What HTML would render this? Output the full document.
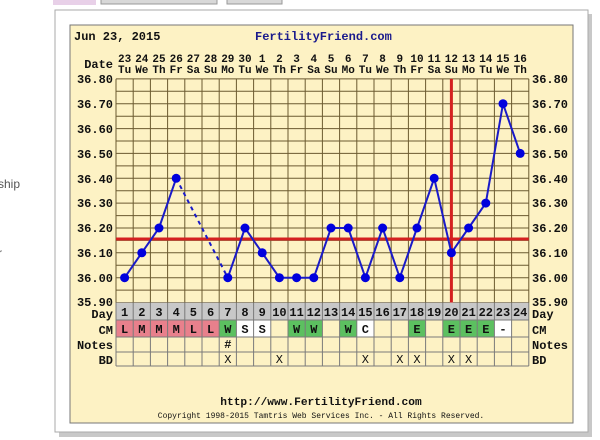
<!DOCTYPE html>
<html><head><meta charset="utf-8"><style>
html,body{margin:0;padding:0;background:#fff;width:600px;height:440px;overflow:hidden;font-family:"Liberation Sans",sans-serif}
svg{position:absolute;left:0;top:0}
</style></head><body>
<svg width="600" height="440" viewBox="0 0 600 440" xmlns="http://www.w3.org/2000/svg">
<text x="-2" y="188" font-size="12" fill="#555" font-family="Liberation Sans, sans-serif">ship</text>
<text x="-2" y="257" font-size="12" fill="#555" font-family="Liberation Sans, sans-serif">r</text>
<rect x="53" y="0" width="43" height="5" fill="#e8d0e8"/>
<rect x="101" y="-2" width="116" height="6" fill="#d8d8d8" stroke="#999"/>
<rect x="227" y="-2" width="55" height="6" fill="#d8d8d8" stroke="#999"/>
<rect x="59" y="14" width="533" height="423" fill="#c8c8c8"/>
<rect x="55" y="10" width="533" height="422" fill="#fff" stroke="#aaa"/>
<rect x="70" y="25" width="503" height="398" fill="#fdf2c4" stroke="#777"/>
<g font-family="Liberation Mono, monospace" font-weight="bold">
<text x="74" y="40" font-size="12" fill="#111">Jun 23, 2015</text>
<text x="255" y="40" font-size="12" fill="#1a1a8c">FertilityFriend.com</text>
</g>
<g stroke="#6b5a30" stroke-width="1" fill="none">
<path d="M116 78.9H528.8M116 91.3H528.8M116 103.7H528.8M116 116.2H528.8M116 128.6H528.8M116 141H528.8M116 153.4H528.8M116 165.9H528.8M116 178.3H528.8M116 190.7H528.8M116 203.1H528.8M116 215.6H528.8M116 228H528.8M116 240.4H528.8M116 252.8H528.8M116 265.3H528.8M116 277.7H528.8M116 290.1H528.8M116 302.5H528.8"/>
<path d="M116 78.9V302.5M133.2 78.9V302.5M150.4 78.9V302.5M167.6 78.9V302.5M184.8 78.9V302.5M202 78.9V302.5M219.2 78.9V302.5M236.4 78.9V302.5M253.6 78.9V302.5M270.8 78.9V302.5M288 78.9V302.5M305.2 78.9V302.5M322.4 78.9V302.5M339.6 78.9V302.5M356.8 78.9V302.5M374 78.9V302.5M391.2 78.9V302.5M408.4 78.9V302.5M425.6 78.9V302.5M442.8 78.9V302.5M460 78.9V302.5M477.2 78.9V302.5M494.4 78.9V302.5M511.6 78.9V302.5M528.8 78.9V302.5"/>
</g>
<rect x="116" y="302.5" width="412.8" height="17.5" fill="#c8c8c8"/>
<rect x="116" y="320" width="412.8" height="46" fill="#fdf2c4"/>
<rect x="116" y="320" width="103.2" height="17" fill="#e8808c"/>
<g fill="#5cc060">
<rect x="219.2" y="320" width="17.2" height="17"/>
<rect x="288" y="320" width="34.4" height="17"/>
<rect x="339.6" y="320" width="17.2" height="17"/>
<rect x="408.4" y="320" width="17.2" height="17"/>
<rect x="442.8" y="320" width="51.6" height="17"/>
</g>
<rect x="236.4" y="320" width="34.4" height="17" fill="#fff"/>
<rect x="356.8" y="320" width="17.2" height="17" fill="#fff"/>
<rect x="494.4" y="320" width="17.2" height="17" fill="#fff"/>
<g stroke="#7a7a7a" stroke-width="1" fill="none">
<path d="M116 320H528.8M116 337H528.8M116 352H528.8M116 366H528.8"/>
<path d="M116 302.5V366M133.2 302.5V366M150.4 302.5V366M167.6 302.5V366M184.8 302.5V366M202 302.5V366M219.2 302.5V366M236.4 302.5V366M253.6 302.5V366M270.8 302.5V366M288 302.5V366M305.2 302.5V366M322.4 302.5V366M339.6 302.5V366M356.8 302.5V366M374 302.5V366M391.2 302.5V366M408.4 302.5V366M425.6 302.5V366M442.8 302.5V366M460 302.5V366M477.2 302.5V366M494.4 302.5V366M511.6 302.5V366M528.8 302.5V366"/>
</g>
<line x1="116" y1="239" x2="528.8" y2="239" stroke="#d42020" stroke-width="3"/>
<line x1="451.4" y1="78.9" x2="451.4" y2="302.5" stroke="#d42020" stroke-width="3"/>
<g stroke="#1a1ac8" stroke-width="2" fill="none">
<polyline points="124.6,277.7 141.8,252.8 159,228 176.2,178.3"/>
<line x1="176.2" y1="178.3" x2="227.8" y2="277.7" stroke-dasharray="4,4"/>
<polyline points="227.8,277.7 245,228 262.2,252.8 279.4,277.7 296.6,277.7 313.8,277.7 331,228 348.2,228 365.4,277.7 382.6,228 399.8,277.7 417,228 434.2,178.3 451.4,252.8 468.6,228 485.8,203.1 503,103.7 520.2,153.4"/>
</g>
<g fill="#0000dd">
<circle cx="124.6" cy="277.7" r="4.5"/><circle cx="141.8" cy="252.8" r="4.5"/><circle cx="159" cy="228" r="4.5"/><circle cx="176.2" cy="178.3" r="4.5"/>
<circle cx="227.8" cy="277.7" r="4.5"/><circle cx="245" cy="228" r="4.5"/><circle cx="262.2" cy="252.8" r="4.5"/><circle cx="279.4" cy="277.7" r="4.5"/><circle cx="296.6" cy="277.7" r="4.5"/><circle cx="313.8" cy="277.7" r="4.5"/><circle cx="331" cy="228" r="4.5"/><circle cx="348.2" cy="228" r="4.5"/><circle cx="365.4" cy="277.7" r="4.5"/><circle cx="382.6" cy="228" r="4.5"/><circle cx="399.8" cy="277.7" r="4.5"/><circle cx="417" cy="228" r="4.5"/><circle cx="434.2" cy="178.3" r="4.5"/><circle cx="451.4" cy="252.8" r="4.5"/><circle cx="468.6" cy="228" r="4.5"/><circle cx="485.8" cy="203.1" r="4.5"/><circle cx="503" cy="103.7" r="4.5"/><circle cx="520.2" cy="153.4" r="4.5"/>
</g>
<g font-family="Liberation Mono, monospace" font-weight="bold" font-size="12" fill="#111">
<text x="113" y="68" text-anchor="end">Date</text>
<g text-anchor="middle">
<text y="62" font-size="11"><tspan x="124.6">23</tspan><tspan x="141.8">24</tspan><tspan x="159">25</tspan><tspan x="176.2">26</tspan><tspan x="193.4">27</tspan><tspan x="210.6">28</tspan><tspan x="227.8">29</tspan><tspan x="245">30</tspan><tspan x="262.2">1</tspan><tspan x="279.4">2</tspan><tspan x="296.6">3</tspan><tspan x="313.8">4</tspan><tspan x="331">5</tspan><tspan x="348.2">6</tspan><tspan x="365.4">7</tspan><tspan x="382.6">8</tspan><tspan x="399.8">9</tspan><tspan x="417">10</tspan><tspan x="434.2">11</tspan><tspan x="451.4">12</tspan><tspan x="468.6">13</tspan><tspan x="485.8">14</tspan><tspan x="503">15</tspan><tspan x="520.2">16</tspan></text>
<text y="73" font-size="11"><tspan x="124.6">Tu</tspan><tspan x="141.8">We</tspan><tspan x="159">Th</tspan><tspan x="176.2">Fr</tspan><tspan x="193.4">Sa</tspan><tspan x="210.6">Su</tspan><tspan x="227.8">Mo</tspan><tspan x="245">Tu</tspan><tspan x="262.2">We</tspan><tspan x="279.4">Th</tspan><tspan x="296.6">Fr</tspan><tspan x="313.8">Sa</tspan><tspan x="331">Su</tspan><tspan x="348.2">Mo</tspan><tspan x="365.4">Tu</tspan><tspan x="382.6">We</tspan><tspan x="399.8">Th</tspan><tspan x="417">Fr</tspan><tspan x="434.2">Sa</tspan><tspan x="451.4">Su</tspan><tspan x="468.6">Mo</tspan><tspan x="485.8">Tu</tspan><tspan x="503">We</tspan><tspan x="520.2">Th</tspan></text>
<text y="316"><tspan x="124.6">1</tspan><tspan x="141.8">2</tspan><tspan x="159">3</tspan><tspan x="176.2">4</tspan><tspan x="193.4">5</tspan><tspan x="210.6">6</tspan><tspan x="227.8">7</tspan><tspan x="245">8</tspan><tspan x="262.2">9</tspan><tspan x="279.4">10</tspan><tspan x="296.6">11</tspan><tspan x="313.8">12</tspan><tspan x="331">13</tspan><tspan x="348.2">14</tspan><tspan x="365.4">15</tspan><tspan x="382.6">16</tspan><tspan x="399.8">17</tspan><tspan x="417">18</tspan><tspan x="434.2">19</tspan><tspan x="451.4">20</tspan><tspan x="468.6">21</tspan><tspan x="485.8">22</tspan><tspan x="503">23</tspan><tspan x="520.2">24</tspan></text>
<text y="333"><tspan x="124.6">L</tspan><tspan x="141.8">M</tspan><tspan x="159">M</tspan><tspan x="176.2">M</tspan><tspan x="193.4">L</tspan><tspan x="210.6">L</tspan><tspan x="227.8">W</tspan><tspan x="245">S</tspan><tspan x="262.2">S</tspan><tspan x="296.6">W</tspan><tspan x="313.8">W</tspan><tspan x="348.2">W</tspan><tspan x="365.4">C</tspan><tspan x="417">E</tspan><tspan x="451.4">E</tspan><tspan x="468.6">E</tspan><tspan x="485.8">E</tspan><tspan x="503">-</tspan></text>
<text y="348" x="227.8">#</text>
<text y="363" font-weight="normal"><tspan x="227.8">X</tspan><tspan x="279.4">X</tspan><tspan x="365.4">X</tspan><tspan x="399.8">X</tspan><tspan x="417">X</tspan><tspan x="451.4">X</tspan><tspan x="468.6">X</tspan></text>
</g>
<g text-anchor="end">
<text x="113" y="83">36.80</text><text x="113" y="108">36.70</text><text x="113" y="133">36.60</text><text x="113" y="158">36.50</text><text x="113" y="183">36.40</text><text x="113" y="207">36.30</text><text x="113" y="232">36.20</text><text x="113" y="257">36.10</text><text x="113" y="282">36.00</text><text x="113" y="306">35.90</text>
<text x="113" y="318">Day</text><text x="113" y="334">CM</text><text x="113" y="349">Notes</text><text x="113" y="364">BD</text>
</g>
<g>
<text x="532" y="83">36.80</text><text x="532" y="108">36.70</text><text x="532" y="133">36.60</text><text x="532" y="158">36.50</text><text x="532" y="183">36.40</text><text x="532" y="207">36.30</text><text x="532" y="232">36.20</text><text x="532" y="257">36.10</text><text x="532" y="282">36.00</text><text x="532" y="306">35.90</text>
<text x="532" y="318">Day</text><text x="532" y="334">CM</text><text x="532" y="349">Notes</text><text x="532" y="364">BD</text>
</g>
<text x="321" y="405" text-anchor="middle" font-size="11.2">http://www.FertilityFriend.com</text>
<text x="321" y="418" text-anchor="middle" font-size="8" font-weight="normal">Copyright 1998-2015 Tamtris Web Services Inc. - All Rights Reserved.</text>
</g>
</svg>
</body></html>
